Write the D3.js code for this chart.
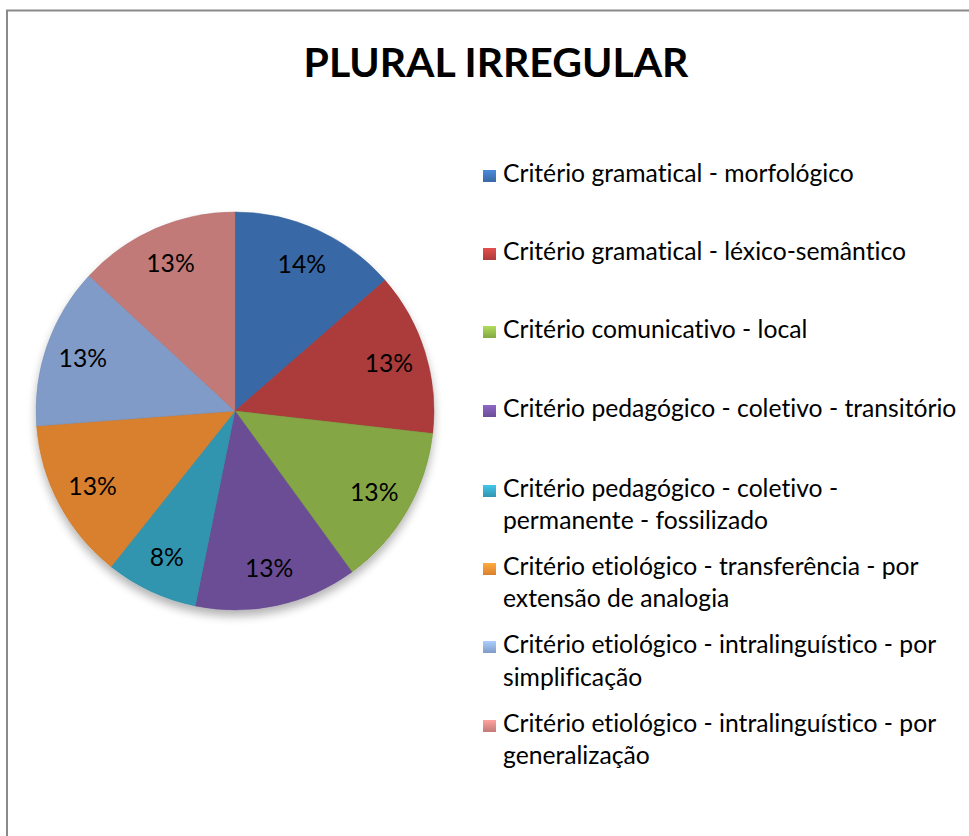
<!DOCTYPE html>
<html><head><meta charset="utf-8">
<script src="https://cdn.jsdelivr.net/npm/d3@7"></script>
<style>html,body{margin:0;padding:0;background:#fff;}svg{display:block;}
text{font-variant-ligatures:none;font-feature-settings:"liga" 0,"clig" 0;}</style>
</head><body>
<script>
const title = "PLURAL IRREGULAR";
const categories = [
  ["Critério gramatical - morfológico"],
  ["Critério gramatical - léxico-semântico"],
  ["Critério comunicativo - local"],
  ["Critério pedagógico - coletivo - transitório"],
  ["Critério pedagógico - coletivo -", "permanente - fossilizado"],
  ["Critério etiológico - transferência - por", "extensão de analogia"],
  ["Critério etiológico - intralinguístico - por", "simplificação"],
  ["Critério etiológico - intralinguístico - por", "generalização"]
];
const values = [13.6, 13.2, 13.2, 13.2, 7.5, 13.1, 13.1, 13.1];
const colors = ["#3F74B8", "#BF4240", "#93B94C", "#7757A6", "#38A6C4", "#F28E34", "#8FADDD", "#D88885"];

const W = 969, H = 836;
const FONT = "Lato, 'Open Sans', sans-serif";
const svg = d3.select("body").append("svg").attr("width", W).attr("height", H);
const defs = svg.append("defs");

// frame
svg.append("path").attr("d", `M7,${H} V10.5 H${W}`).attr("fill", "none")
  .attr("stroke", "#8a8a8a").attr("stroke-width", 2);

// title
const t = svg.append("text").attr("x", 496).attr("y", 77).attr("text-anchor", "middle")
  .attr("font-family", FONT).attr("font-weight", 700).attr("font-size", 44).attr("fill", "#000").text(title);
const tw = t.node().getComputedTextLength();
t.attr("font-size", 44 * 385 / tw);

// pie
const cx = 235, cy = 411, R = 199;
const total = d3.sum(values);
const pie = d3.pie().sort(null).value(d => d)(values);
const arc = d3.arc().innerRadius(0).outerRadius(R);
const fmt = d3.format(".0%");

// shadow
const f = defs.append("filter").attr("id", "sh").attr("x", "-20%").attr("y", "-20%").attr("width", "140%").attr("height", "150%");
f.append("feGaussianBlur").attr("in", "SourceAlpha").attr("stdDeviation", 5);
f.append("feOffset").attr("dx", 0).attr("dy", 6).attr("result", "b");
f.append("feComponentTransfer").append("feFuncA").attr("type", "linear").attr("slope", 0.3);
const fm = f.append("feMerge"); fm.append("feMergeNode"); fm.append("feMergeNode").attr("in", "SourceGraphic");

colors.forEach((c, i) => {
  const g = defs.append("radialGradient").attr("id", "g" + i).attr("gradientUnits", "userSpaceOnUse")
    .attr("cx", cx).attr("cy", cy).attr("r", R);
  const base = d3.color(c);
  g.append("stop").attr("offset", 0).attr("stop-color", base.darker(0.05));
  g.append("stop").attr("offset", 0.87).attr("stop-color", base);
  g.append("stop").attr("offset", 0.94).attr("stop-color", base.brighter(0.35));
  g.append("stop").attr("offset", 1).attr("stop-color", base.darker(0.3));
});

const pg = svg.append("g").attr("transform", `translate(${cx},${cy})`).attr("filter", "url(#sh)");
pg.selectAll("path.slice").data(pie).join("path").attr("class", "slice")
  .attr("d", arc).attr("fill", (d, i) => `url(#g${i})`)
  .attr("stroke", (d, i) => d3.color(colors[i]).darker(0.6)).attr("stroke-width", 0.8).attr("stroke-opacity", 0.6);

const la = d3.arc().innerRadius(R * 0.81).outerRadius(R * 0.81);
const lg = svg.append("g").attr("transform", `translate(${cx},${cy})`);
const labels = lg.selectAll("text").data(pie).join("text")
  .attr("transform", d => `translate(${la.centroid(d)})`)
  .attr("text-anchor", "middle").attr("dy", "0.36em")
  .attr("font-family", FONT).attr("font-size", 22).attr("fill", "#000")
  .text(d => fmt(d.value / total));

// legend
const leg = svg.append("g");
const baselines = [[182], [260], [338], [417], [497, 528.5], [575, 606.5], [653, 686], [732, 764]];
const lfs = 22;
let items = [];
categories.forEach((lines, i) => {
  const sg = defs.append("linearGradient").attr("id", "lm" + i).attr("x1", 0).attr("y1", 0).attr("x2", 0).attr("y2", 1);
  sg.append("stop").attr("offset", 0).attr("stop-color", d3.color(colors[i]).brighter(0.5));
  sg.append("stop").attr("offset", 1).attr("stop-color", d3.color(colors[i]).darker(0.3));
  leg.append("rect").attr("x", 483).attr("y", baselines[i][0] - 12).attr("width", 13).attr("height", 12)
    .attr("fill", `url(#lm${i})`);
  lines.forEach((ln, j) => {
    const tx = leg.append("text").attr("x", 503).attr("y", baselines[i][j])
      .attr("font-family", FONT).attr("font-size", lfs).attr("fill", "#000").text(ln);
    items.push(tx);
  });
});
// scale legend font so first line matches reference width (~351px)
const w0 = items[0].node().getComputedTextLength();
const fs = lfs * 351 / w0;
items.forEach(tx => tx.attr("font-size", fs));
labels.attr("font-size", fs);
</script>
</body></html>
